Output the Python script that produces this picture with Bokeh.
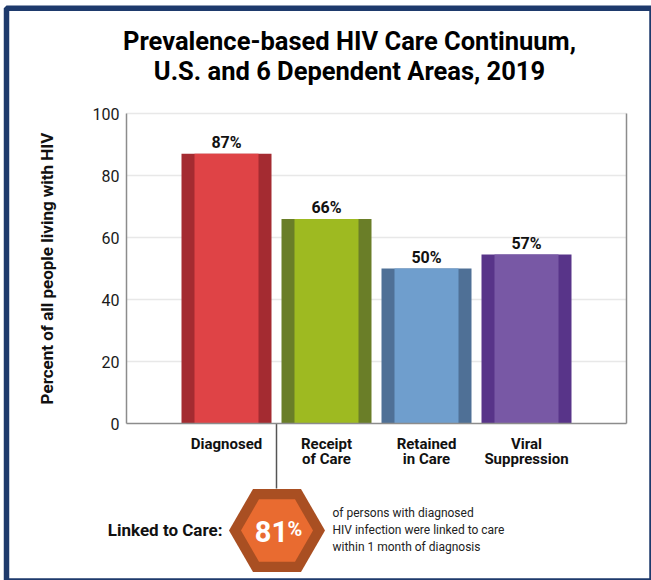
from bokeh.plotting import figure
from bokeh.models import FixedTicker, Range1d, ColumnDataSource
from bokeh.core.properties import value
from bokeh.embed import file_html
from bokeh.resources import INLINE
import math

# ---- data ----
categories = ["Diagnosed", "Receipt\nof Care", "Retained\nin Care", "Viral\nSuppression"]
bar_heights = [87, 66, 50, 54.5]
bar_labels = ["87%", "66%", "50%", "57%"]
y_ticks = [0, 20, 40, 60, 80, 100]
linked_pct = 81
title_lines = ["Prevalence-based HIV Care Continuum,", "U.S. and 6 Dependent Areas, 2019"]
note_lines = ["of persons with diagnosed", "HIV infection were linked to care",
              "within 1 month of diagnosis"]

main_colors = ["#DF4346", "#9EBA21", "#6F9ECD", "#7858A5"]
side_colors = ["#A42B31", "#6A7E28", "#4F7096", "#583489"]

FONT = "Roboto"
W, H = 651, 580
FL, FR, FT, FB = 126, 626, 113, 423      # plot area in pixels
x_positions = [1, 2, 3, 4]
X_MAX, Y_MAX = 5.0, 100.0


def X(px):
    return (px - FL) / ((FR - FL) / X_MAX)


def Y(py):
    return (FB - py) / ((FB - FT) / Y_MAX)


p = figure(width=W, height=H, x_range=Range1d(X(0), X(W)), y_range=Range1d(Y(H), Y(0)),
           output_backend="svg", toolbar_location=None,
           min_border_left=0, min_border_right=0, min_border_top=0, min_border_bottom=0,
           background_fill_color="white", border_fill_color="white",
           styles={"position": "absolute", "left": "0px", "top": "0px"})
p.outline_line_color = None
p.xgrid.grid_line_color = None
p.ygrid.grid_line_color = None

# ---- axes (pinned at the data origin, limited to the plot area) ----
xa = p.xaxis[0]
xa.fixed_location = 0
xa.bounds = (0, X_MAX)
xa.ticker = FixedTicker(ticks=x_positions)
xa.major_label_overrides = {x: c for x, c in zip(x_positions, categories)}
xa.major_tick_line_color = None
xa.minor_tick_line_color = None
xa.major_tick_out = 0
xa.major_tick_in = 0
xa.axis_line_color = "#8C8C8C"
xa.axis_line_width = 1.5
xa.major_label_standoff = 11
xa.major_label_text_font = FONT
xa.major_label_text_font_style = "bold"
xa.major_label_text_font_size = "15px"
xa.major_label_text_color = "#111111"
xa.major_label_text_line_height = 0.85

ya = p.yaxis[0]
ya.fixed_location = 0
ya.bounds = (0, Y_MAX)
ya.ticker = FixedTicker(ticks=y_ticks)
ya.major_tick_line_color = None
ya.minor_tick_line_color = None
ya.major_tick_out = 0
ya.major_tick_in = 0
ya.axis_line_color = "#8C8C8C"
ya.axis_line_width = 1.5
ya.major_label_standoff = 7
ya.major_label_text_font = FONT
ya.major_label_text_font_size = "16px"
ya.major_label_text_color = "#1A1A1A"
ya.axis_label = "Percent of all people living with HIV"
ya.axis_label_text_font = FONT
ya.axis_label_text_font_style = "bold"
ya.axis_label_text_font_size = "17px"
ya.axis_label_text_color = "#111111"
ya.axis_label_standoff = 33

# grid lines and right edge of the plot area
p.segment(x0=[0] * (len(y_ticks) - 1), y0=y_ticks[1:], x1=[X_MAX] * (len(y_ticks) - 1),
          y1=y_ticks[1:], line_color="#E8E8E8", line_width=1.5, level="underlay")
p.segment(x0=[X_MAX], y0=[0], x1=[X_MAX], y1=[Y_MAX], line_color="#8C8C8C", line_width=1.5)

# ---- bars ----
src = ColumnDataSource(dict(x=x_positions, top=bar_heights, label=bar_labels,
                            label_y=[h + 3.6 for h in bar_heights],
                            main=main_colors, side=side_colors))
p.vbar(x="x", top="top", width=0.9, bottom=0, fill_color="side", line_color=None, source=src)
p.vbar(x="x", top="top", width=0.64, bottom=0, fill_color="main", line_color=None, source=src)
p.text(x="x", y="label_y", text="label", source=src, text_font=value(FONT),
       text_font_style="bold", text_font_size="16px", text_align="center",
       text_baseline="middle", text_color="#111111")


def txt(px, py, s, size, bold=False, align="left", color="#111111"):
    p.text(x=[X(px)], y=[Y(py)], text=[s], text_font=value(FONT),
           text_font_style="bold" if bold else "normal", text_font_size=size,
           text_align=align, text_baseline="middle", text_color=color)


# ---- title ----
for line, mid in zip(title_lines, [40, 70]):
    txt(349, mid, line, "25.5px", bold=True, align="center", color="#000000")

# ---- linked to care callout ----
hx, hy = 276.5, 530
p.segment(x0=[X(276)], y0=[0], x1=[X(276)], y1=[Y(hy - 42)], line_color="#555555",
          line_width=1.5)


def hexagon(r):
    xs, ys = [], []
    for k in range(6):
        a = math.radians(60 * k)
        xs.append(X(hx + r * math.cos(a)))
        ys.append(Y(hy + r * math.sin(a)))
    return xs, ys


ox, oy = hexagon(48)
ix, iy = hexagon(36)
p.patch(ox, oy, fill_color="#A94F22", line_color=None)
p.patch(ix, iy, fill_color="#E96B30", line_color=None)

txt(271, 531, str(linked_pct), "29px", bold=True, align="center", color="white")
txt(287, 528, "%", "20px", bold=True, align="left", color="white")
txt(222, 529, "Linked to Care:", "17px", bold=True, align="right")
for line, mid in zip(note_lines, [512.5, 529.5, 546.5]):
    txt(332, mid, line, "12px", color="#222222")

# ---- outer border ----
p.quad(left=[X(6)], right=[X(651.5)], top=[Y(7.8)], bottom=[Y(580.5)],
       fill_alpha=0, line_color="#1E3A6C", line_width=5.5)

open("out.html", "w").write(file_html(p, INLINE))
